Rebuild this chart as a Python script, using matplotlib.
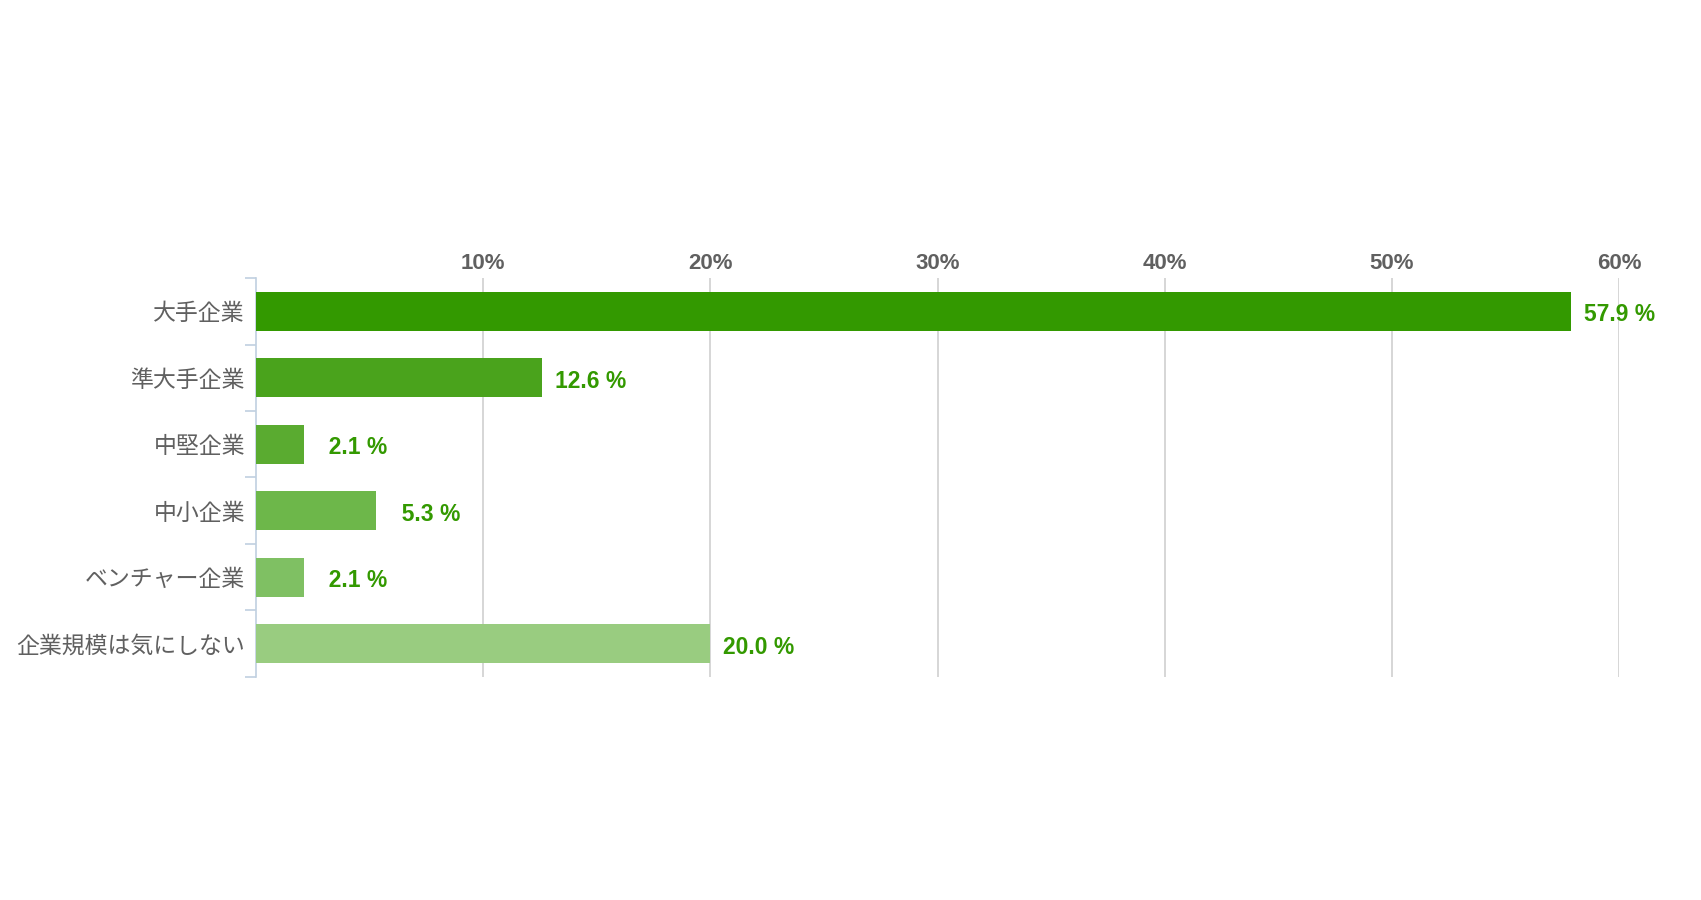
import matplotlib.pyplot as plt
import numpy as np

categories = ['大手企業', '準大手企業', '中堅企業', '中小企業', 'ベンチャー企業', '企業規模は気にしない']
values = [57.9, 12.6, 2.1, 5.3, 2.1, 20.0]
xticks = [10, 20, 30, 40, 50, 60]
xtick_labels = ['10%', '20%', '30%', '40%', '50%', '60%']

bar_colors = ['#339900', '#4aa31c', '#5aab30', '#6db74a', '#7fc063', '#99cc80']

fig = plt.figure(figsize=(17.01, 9.0), dpi=100)
ax = fig.add_axes([0.1505, 0.248, 0.8013, 0.443])

y = np.arange(len(categories))
ax.barh(y, values, height=0.59, color=bar_colors, zorder=3)

ax.set_xlim(0, 60)
ax.set_ylim(len(categories) - 0.5, -0.5)

# grid
for t in xticks:
    ax.axvline(t, color='#d0d0d0', lw=1.2, zorder=1)

# x labels on top
ax.xaxis.tick_top()
ax.set_xticks(xticks)
ax.set_xticklabels(xtick_labels, fontsize=16, fontweight='bold', color='#606060',
                   family=['Liberation Sans', 'DejaVu Sans'])
ax.tick_params(axis='x', length=0, pad=3)

# y labels
ax.set_yticks(y)
ax.set_yticklabels(categories, fontsize=16.5, color='#606060',
                   family=['Noto Sans CJK JP', 'DejaVu Sans'])
ax.tick_params(axis='y', which='major', length=0, pad=8)
ax.set_yticks(np.arange(-0.5, len(categories)), minor=True)
ax.tick_params(axis='y', which='minor', length=8, width=1.2, color='#c0d0e0')

for s in ['top', 'right', 'bottom']:
    ax.spines[s].set_visible(False)
ax.spines['left'].set_color('#c0d0e0')
ax.spines['left'].set_linewidth(1.2)

# value labels, right-aligned in a fixed width like the original
for yi, v in zip(y, values):
    txt = f'{v:.1f} %'
    if v < 10:
        txt = '\u2007' + txt
    ax.annotate(txt, xy=(v, yi), xytext=(9, -2.5), textcoords='offset points',
                ha='left', va='center', fontsize=16.5, fontweight='bold',
                color='#339900', family=['Liberation Sans', 'DejaVu Sans'], zorder=4)

fig.savefig('out.png', dpi=100, facecolor='white')
